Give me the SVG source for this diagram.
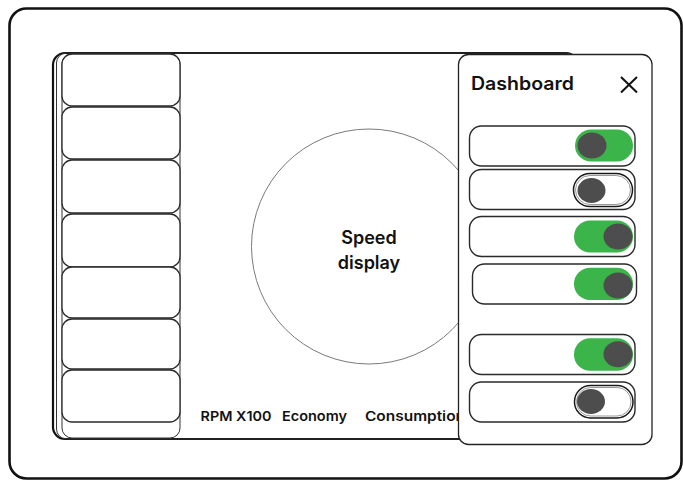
<svg xmlns="http://www.w3.org/2000/svg" width="683" height="480" viewBox="0 0 683 480">
<style>
  .frame{fill:#fff;stroke:#111;stroke-width:2.6}
  .screen{fill:#fff;stroke:#111;stroke-width:2.2}
  .thin{fill:none;stroke:#333;stroke-width:1}
  .item{fill:#fff;stroke:#2a2a2a;stroke-width:1.3}
  .dial{fill:none;stroke:#7a7a7a;stroke-width:1}
  .lbl{font-family:Inter,"Liberation Sans",sans-serif;font-weight:600;fill:#111}
  .panel{fill:#fff;stroke:#222;stroke-width:1.3}
  .row{fill:#fff;stroke:#2a2a2a;stroke-width:1.4}
  .on{fill:#3bb54a}
  .off{fill:#fff;stroke:#1a1a1a;stroke-width:1.5}
  .offin{fill:none;stroke:#999;stroke-width:1}
  .knob{fill:#4d4d4d}
</style>
<g id="device">
  <rect class="frame" x="9.5" y="8.5" width="672" height="470" rx="17"/>
</g>
<g id="screen">
  <rect class="screen" x="53" y="53" width="525" height="386" rx="12"/>
  <rect class="thin" x="56.5" y="53" width="520" height="386" rx="10"/>
</g>
<g id="sidebar">
  <rect class="thin" x="62" y="54" width="118" height="384" rx="10"/>
  <rect class="item" x="62" y="54" width="118" height="52" rx="10"/>
  <rect class="item" x="62" y="107" width="118" height="52" rx="10"/>
  <rect class="item" x="62" y="160" width="118" height="53" rx="10"/>
  <rect class="item" x="62" y="214" width="118" height="53" rx="10"/>
  <rect class="item" x="62" y="267" width="118" height="51" rx="10"/>
  <rect class="item" x="62" y="319" width="118" height="50" rx="10"/>
  <rect class="item" x="62" y="370" width="118" height="52" rx="10"/>
</g>
<g id="speed-display">
  <circle class="dial" cx="369" cy="246.5" r="117.5"/>
  <text class="lbl" x="369" y="244" font-size="18" text-anchor="middle">Speed</text>
  <text class="lbl" x="369" y="269" font-size="18" text-anchor="middle">display</text>
</g>
<g id="readouts">
  <text class="lbl" x="200.5" y="421" font-size="13.5" textLength="71" lengthAdjust="spacingAndGlyphs">RPM X100</text>
  <text class="lbl" x="282" y="421" font-size="13.5" textLength="65" lengthAdjust="spacingAndGlyphs">Economy</text>
  <text class="lbl" x="365" y="421" font-size="13.5" textLength="100" lengthAdjust="spacingAndGlyphs">Consumption</text>
</g>
<g id="dashboard-panel">
  <rect class="panel" x="458.5" y="54.5" width="193.5" height="390" rx="10"/>
  <text class="lbl" x="471" y="89.5" font-size="18" textLength="103" lengthAdjust="spacingAndGlyphs">Dashboard</text>
  <path d="M621 77 L637 92.5 M637 77 L621 92.5" stroke="#111" stroke-width="2" fill="none"/>
</g>
<g id="toggle-1">
  <rect class="row" x="469.5" y="126" width="165.5" height="40" rx="12"/>
  <rect class="on" x="575" y="129.5" width="58" height="32" rx="16"/>
  <ellipse class="knob" cx="592" cy="145.5" rx="14.5" ry="13"/>
</g>
<g id="toggle-2">
  <rect class="row" x="469.5" y="169.5" width="165.5" height="40" rx="12"/>
  <rect class="off" x="573.5" y="173.5" width="59" height="33" rx="16.5"/>
  <rect class="offin" x="575.5" y="175.5" width="55" height="29" rx="14.5"/>
  <ellipse class="knob" cx="591.5" cy="190.5" rx="14" ry="12.5"/>
</g>
<g id="toggle-3">
  <rect class="row" x="469.5" y="216.5" width="165.5" height="40" rx="12"/>
  <rect class="on" x="574" y="220.5" width="59" height="32" rx="16"/>
  <ellipse class="knob" cx="618" cy="236.5" rx="14.5" ry="13"/>
</g>
<g id="toggle-4">
  <rect class="row" x="472.5" y="264" width="164" height="40" rx="12"/>
  <rect class="on" x="574" y="267.7" width="59" height="32.3" rx="16"/>
  <ellipse class="knob" cx="618" cy="285.5" rx="14.5" ry="13"/>
</g>
<g id="toggle-5">
  <rect class="row" x="469.5" y="334.5" width="165.5" height="40" rx="12"/>
  <rect class="on" x="574" y="338.3" width="59" height="32.4" rx="16"/>
  <ellipse class="knob" cx="618" cy="354.3" rx="14.5" ry="13"/>
</g>
<g id="toggle-6">
  <rect class="row" x="469.5" y="382" width="165.5" height="40" rx="12"/>
  <rect class="off" x="574.5" y="385.5" width="58.5" height="32.5" rx="16"/>
  <rect class="offin" x="576.5" y="387.5" width="54.5" height="28.5" rx="14"/>
  <ellipse class="knob" cx="591" cy="401.5" rx="14" ry="12.5"/>
</g>
</svg>
